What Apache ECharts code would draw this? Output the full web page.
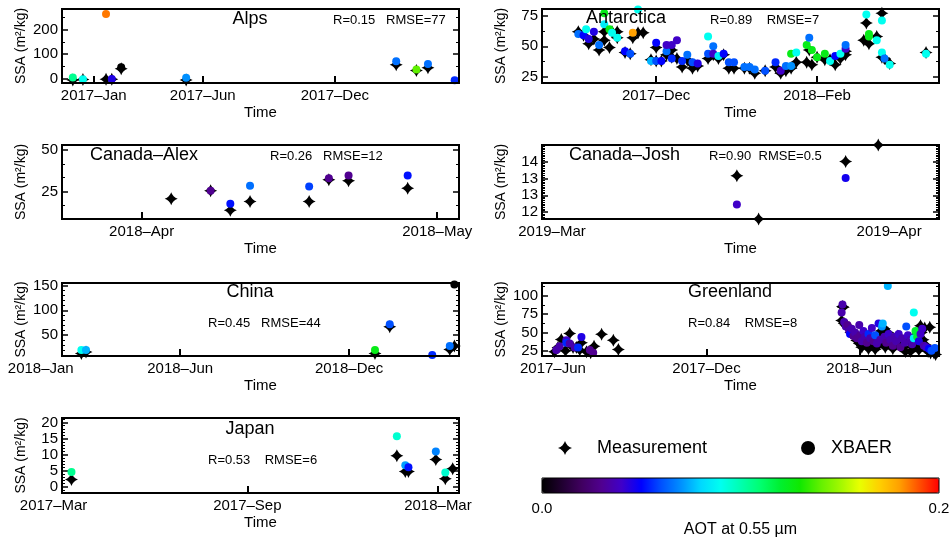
<!DOCTYPE html>
<html>
<head>
<meta charset="utf-8">
<title>SSA comparison</title>
<script src="https://cdn.jsdelivr.net/npm/echarts@6.0.0/dist/echarts.min.js"></script>
<style>
  html, body { margin: 0; padding: 0; background: #ffffff; }
  #chart { width: 952px; height: 543px; }
</style>
</head>
<body>
<div id="chart"></div>
<script>
// measurement points: [date, SSA]; XBAER points: [date, SSA, AOT]
var alpsMeas = [['2016-12-03', -6], ['2016-12-17', -4], ['2017-01-18', -3], ['2017-01-26', -3], ['2017-02-08', 40],
  ['2017-05-09', -6], ['2018-02-24', 57], ['2018-03-24', 33], ['2018-04-09', 44]]
var alpsXbaer = [['2016-12-03', 5, 0.105], ['2016-12-17', -3, 0.09], ['2017-01-18', 265, 0.185], ['2017-01-26', -2, 0.045],
  ['2017-02-08', 47, 0.0], ['2017-05-09', 3, 0.07], ['2018-02-24', 71, 0.065], ['2018-03-24', 37, 0.14],
  ['2018-04-09', 60, 0.065], ['2018-05-16', -7, 0.055]]

var antMeas = [['2017-11-01', 62], ['2017-11-03', 59], ['2017-11-05', 52], ['2017-11-07', 56], ['2017-11-09', 47],
  ['2017-11-11', 55], ['2017-11-11', 62], ['2017-11-13', 49], ['2017-11-14', 62], ['2017-11-16', 57], ['2017-11-16', 62],
  ['2017-11-19', 45], ['2017-11-21', 44], ['2017-11-22', 57], ['2017-11-24', 61], ['2017-11-26', 61], ['2017-11-29', 39],
  ['2017-12-01', 49], ['2017-12-01', 38], ['2017-12-03', 38], ['2017-12-05', 43], ['2017-12-07', 47], ['2017-12-07', 41],
  ['2017-12-09', 40], ['2017-12-11', 33], ['2017-12-13', 39], ['2017-12-15', 35], ['2017-12-15', 32], ['2017-12-17', 34],
  ['2017-12-21', 40], ['2017-12-23', 43], ['2017-12-25', 40], ['2017-12-27', 43], ['2017-12-29', 32], ['2017-12-31', 32],
  ['2018-01-04', 32], ['2018-01-06', 32], ['2018-01-08', 28], ['2018-01-12', 30], ['2018-01-16', 33], ['2018-01-18', 28],
  ['2018-01-20', 30], ['2018-01-22', 32], ['2018-01-24', 37], ['2018-01-28', 37], ['2018-01-29', 47], ['2018-01-30', 35],
  ['2018-02-01', 41], ['2018-02-04', 39], ['2018-02-06', 39], ['2018-02-08', 35], ['2018-02-10', 40], ['2018-02-12', 43],
  ['2018-02-12', 46], ['2018-02-19', 55], ['2018-02-20', 69], ['2018-02-21', 52], ['2018-02-24', 58], ['2018-02-26', 77],
  ['2018-02-26', 41], ['2018-02-27', 40], ['2018-03-01', 36], ['2018-03-15', 45]]
var antXbaer = [['2017-11-01', 60, 0.065], ['2017-11-03', 59, 0.05], ['2017-11-04', 64, 0.09], ['2017-11-05', 56, 0.045],
  ['2017-11-07', 62, 0.045], ['2017-11-09', 51, 0.065], ['2017-11-11', 77, 0.125], ['2017-11-11', 68, 0.085],
  ['2017-11-13', 64, 0.125], ['2017-11-14', 61, 0.09], ['2017-11-16', 57, 0.09], ['2017-11-19', 46, 0.05],
  ['2017-11-21', 44, 0.06], ['2017-11-22', 61, 0.18], ['2017-11-24', 80, 0.09], ['2017-11-29', 38, 0.075],
  ['2017-12-01', 53, 0.05], ['2017-12-01', 38, 0.06], ['2017-12-03', 38, 0.05], ['2017-12-05', 46, 0.065],
  ['2017-12-05', 51, 0.04], ['2017-12-07', 51, 0.04], ['2017-12-07', 40, 0.055], ['2017-12-09', 55, 0.04],
  ['2017-12-11', 38, 0.055], ['2017-12-13', 43, 0.065], ['2017-12-15', 37, 0.06], ['2017-12-17', 36, 0.045],
  ['2017-12-21', 58, 0.09], ['2017-12-21', 44, 0.06], ['2017-12-23', 50, 0.065], ['2017-12-23', 44, 0.04],
  ['2017-12-25', 42, 0.085], ['2017-12-27', 44, 0.05], ['2017-12-29', 37, 0.06], ['2017-12-31', 37, 0.06],
  ['2018-01-04', 33, 0.065], ['2018-01-06', 33, 0.065], ['2018-01-08', 31, 0.065], ['2018-01-12', 30, 0.06],
  ['2018-01-16', 37, 0.055], ['2018-01-18', 30, 0.04], ['2018-01-20', 34, 0.065], ['2018-01-22', 34, 0.07],
  ['2018-01-22', 44, 0.125], ['2018-01-24', 45, 0.09], ['2018-01-28', 51, 0.125], ['2018-01-29', 57, 0.065],
  ['2018-01-30', 47, 0.125], ['2018-02-01', 41, 0.125], ['2018-02-04', 44, 0.125], ['2018-02-06', 38, 0.09],
  ['2018-02-08', 42, 0.05], ['2018-02-10', 44, 0.09], ['2018-02-12', 48, 0.04], ['2018-02-12', 51, 0.065],
  ['2018-02-20', 76, 0.09], ['2018-02-21', 58, 0.125], ['2018-02-21', 60, 0.125], ['2018-02-24', 55, 0.09],
  ['2018-02-26', 71, 0.09], ['2018-02-26', 45, 0.09], ['2018-02-27', 40, 0.065], ['2018-03-01', 35, 0.09],
  ['2018-03-15', 44, 0.09]]

var alexMeas = [['2018-04-04', 20.6], ['2018-04-08', 25.4], ['2018-04-10', 13.6], ['2018-04-12', 19], ['2018-04-18', 19],
  ['2018-04-20', 32], ['2018-04-22', 31.4], ['2018-04-28', 27]]
var alexXbaer = [['2018-04-08', 25.4, 0.03], ['2018-04-10', 17.6, 0.052], ['2018-04-12', 28.4, 0.065],
  ['2018-04-18', 28, 0.058], ['2018-04-20', 33, 0.03], ['2018-04-22', 34.6, 0.03], ['2018-04-28', 34.6, 0.052]]

var joshMeas = [['2019-03-18', 13.58], ['2019-03-20', 12.3], ['2019-03-28', 14.0], ['2019-03-31', 14.49]]
var joshXbaer = [['2019-03-18', 12.73, 0.04], ['2019-03-28', 13.51, 0.047]]

var chinaMeas = [['2018-02-14', 13], ['2018-02-19', 16], ['2018-12-29', 13], ['2019-01-14', 67], ['2019-03-20', 21],
  ['2019-03-25', 28]]
var chinaXbaer = [['2018-02-14', 20, 0.09], ['2018-02-19', 20, 0.075], ['2018-12-29', 20, 0.125], ['2019-01-14', 72, 0.06],
  ['2019-03-01', 10, 0.055], ['2019-03-20', 28, 0.065], ['2019-03-25', 152, 0.0]]

var greenMeas = [['2017-06-03', 23.7], ['2017-06-07', 29.6], ['2017-06-11', 40.3], ['2017-06-16', 25], ['2017-06-21', 48.4],
  ['2017-06-25', 29.6], ['2017-06-29', 29.6], ['2017-07-03', 26], ['2017-07-05', 35.8], ['2017-07-11', 23.7],
  ['2017-07-16', 22.3], ['2017-07-20', 31.3], ['2017-07-29', 47.5], ['2017-08-12', 39.4], ['2017-08-18', 26.9],
  ['2018-05-11', 66], ['2018-05-12', 85], ['2018-05-13', 84], ['2018-05-14', 62], ['2018-05-16', 60], ['2018-05-18', 58],
  ['2018-05-20', 56], ['2018-05-22', 50], ['2018-05-23', 52], ['2018-05-26', 46], ['2018-05-27', 44], ['2018-05-29', 39],
  ['2018-05-31', 42], ['2018-06-01', 35], ['2018-06-03', 40], ['2018-06-04', 30], ['2018-06-07', 42], ['2018-06-08', 38],
  ['2018-06-10', 35], ['2018-06-12', 28], ['2018-06-13', 46], ['2018-06-15', 33], ['2018-06-16', 37], ['2018-06-19', 30],
  ['2018-06-20', 27], ['2018-06-22', 42], ['2018-06-24', 33], ['2018-06-25', 35], ['2018-06-27', 52], ['2018-06-29', 46],
  ['2018-07-01', 55], ['2018-07-02', 30], ['2018-07-05', 50], ['2018-07-07', 39], ['2018-07-09', 36], ['2018-07-11', 28],
  ['2018-07-13', 33], ['2018-07-15', 37], ['2018-07-17', 45], ['2018-07-19', 41], ['2018-07-22', 33], ['2018-07-24', 30],
  ['2018-07-26', 24], ['2018-07-28', 42], ['2018-07-30', 39], ['2018-08-01', 24], ['2018-08-04', 30], ['2018-08-06', 45],
  ['2018-08-08', 35], ['2018-08-11', 26], ['2018-08-13', 59], ['2018-08-14', 50], ['2018-08-16', 40], ['2018-08-18', 56],
  ['2018-08-19', 33], ['2018-08-22', 24], ['2018-08-24', 57], ['2018-08-25', 22], ['2018-08-29', 22], ['2018-08-31', 20]]
var greenXbaer = [['2017-06-05', 26, 0.035], ['2017-06-09', 31.3, 0.035], ['2017-06-17', 39.4, 0.04], ['2017-06-17', 36, 0.055],
  ['2017-06-21', 35, 0.035], ['2017-06-27', 29.6, 0.035], ['2017-07-01', 29.6, 0.055], ['2017-07-05', 43.8, 0.045],
  ['2017-07-15', 26, 0.03], ['2017-07-19', 22.3, 0.03],
  ['2018-05-11', 77, 0.035], ['2018-05-12', 88, 0.035], ['2018-05-14', 64, 0.035], ['2018-05-16', 58, 0.035],
  ['2018-05-18', 60, 0.03], ['2018-05-20', 52, 0.035], ['2018-05-21', 48, 0.05], ['2018-05-23', 55, 0.035],
  ['2018-05-25', 45, 0.03], ['2018-05-27', 50, 0.035], ['2018-05-29', 42, 0.03], ['2018-06-01', 60, 0.035],
  ['2018-06-02', 46, 0.03], ['2018-06-04', 38, 0.035], ['2018-06-06', 52, 0.04], ['2018-06-08', 44, 0.035],
  ['2018-06-10', 36, 0.03], ['2018-06-12', 48, 0.055], ['2018-06-14', 42, 0.035], ['2018-06-16', 56, 0.04],
  ['2018-06-18', 38, 0.03], ['2018-06-20', 46, 0.06], ['2018-06-22', 35, 0.035], ['2018-06-24', 62, 0.045],
  ['2018-06-26', 40, 0.035], ['2018-06-28', 58, 0.07], ['2018-06-29', 62, 0.075], ['2018-07-01', 44, 0.035],
  ['2018-07-03', 36, 0.03], ['2018-07-05', 113, 0.075], ['2018-07-06', 48, 0.04], ['2018-07-08', 40, 0.035],
  ['2018-07-11', 32, 0.03], ['2018-07-13', 44, 0.035], ['2018-07-15', 38, 0.035], ['2018-07-18', 48, 0.04],
  ['2018-07-20', 30, 0.03], ['2018-07-22', 42, 0.035], ['2018-07-25', 36, 0.035], ['2018-07-27', 58, 0.06],
  ['2018-07-29', 46, 0.04], ['2018-08-01', 40, 0.035], ['2018-08-03', 34, 0.035], ['2018-08-05', 77, 0.09],
  ['2018-08-05', 42, 0.085], ['2018-08-07', 52, 0.12], ['2018-08-09', 44, 0.12], ['2018-08-11', 38, 0.045],
  ['2018-08-13', 48, 0.04], ['2018-08-15', 55, 0.04], ['2018-08-17', 32, 0.035], ['2018-08-20', 30, 0.04],
  ['2018-08-23', 28, 0.05], ['2018-08-26', 25, 0.06], ['2018-08-30', 29, 0.06]]

var japanMeas = [['2017-03-18', 2.3], ['2018-01-21', 9.7], ['2018-01-29', 4.8], ['2018-02-01', 4.8], ['2018-02-27', 8.5],
  ['2018-03-08', 2.5], ['2018-03-15', 5.6]]
var japanXbaer = [['2017-03-18', 4.6, 0.105], ['2018-01-21', 15.7, 0.095], ['2018-01-29', 6.7, 0.072],
  ['2018-02-01', 6.1, 0.052], ['2018-02-27', 11, 0.068], ['2018-03-08', 4.5, 0.095]]

// axis ticks and labels
var alpsXTicks = ['2017-01-01', '2017-06-01', '2017-12-01']
var antXTicks = ['2017-12-01', '2018-02-01']
var alexXTicks = ['2018-04-01', '2018-05-01']
var joshXLabels = ['2019-03-01', '2019-04-01']
var chinaXTicks = ['2018-06-01', '2018-12-01']
var chinaXLabels = ['2018-01-01', '2018-06-01', '2018-12-01']
var greenXTicks = ['2017-06-01', '2017-12-01', '2018-06-01']
var japanXTicks = ['2017-09-01', '2018-03-01']
var japanXLabels = ['2017-03-01', '2017-09-01', '2018-03-01']

var alpsYTicks = [0, 100, 200]
var antYTicks = [25, 50, 75]
var alexYTicks = [25, 50]
var joshYTicks = [12.5, 13, 13.5, 14]
var chinaYTicks = [50, 100, 150]
var greenYTicks = [25, 50, 75, 100]
var japanYTicks = [0, 5, 10, 15, 20]

var aotColors = ['#000000', '#200030', '#400060', '#500090', '#4000c8', '#0000ff', '#0050ff', '#0090ff', '#00d8ff',
  '#00fff0', '#00ffb0', '#00ff70', '#00f030', '#10e800', '#60f000', '#a0f800', '#e8ff00', '#ffd000', '#ffa000',
  '#ff5000', '#ff0000']
var aotLabels = [0, 0.2]

var FONT = '"Liberation Sans", Arial, Helvetica, sans-serif'
var STAR = 'path://M0,-10 Q2.5,-2.5 10,0 Q2.5,2.5 0,10 Q-2.5,2.5 -10,0 Q-2.5,-2.5 0,-10 Z'
var MONTHS = ['Jan', 'Feb', 'Mar', 'Apr', 'May', 'Jun', 'Jul', 'Aug', 'Sep', 'Oct', 'Nov', 'Dec']

function toDay(s) {
  return Date.parse(s.length > 10 ? s + ':00Z' : s + 'T00:00:00Z') / 864e5
}
function dayLabel(d) {
  var t = new Date(Math.round(d) * 864e5)
  return t.getUTCFullYear() + '\u2013' + MONTHS[t.getUTCMonth()]
}
function minorTicks(from, to, step, majors) {
  var out = []
  for (var v = from; v <= to + 1e-9; v += step) {
    var r = Math.round(v * 1000) / 1000
    if (majors.indexOf(r) < 0) out.push(r)
  }
  return out
}

var panels = [
  { name: 'Alps', stats: 'R=0.15   RMSE=77', meas: alpsMeas, xbaer: alpsXbaer,
    box: [62, 9, 397, 74], xRange: ['2016-11-18', '2018-05-22'], xTicks: alpsXTicks, xLabels: alpsXTicks,
    yRange: [-18, 285], yTicks: alpsYTicks, yMinor: [50, 150, 250],
    titleAt: [250, 19, 'center'], statsAt: [333, 20] },
  { name: 'Antarctica', stats: 'R=0.89    RMSE=7', meas: antMeas, xbaer: antXbaer,
    box: [542, 9, 397, 74], xRange: ['2017-10-18', '2018-03-20'], xTicks: antXTicks, xLabels: antXTicks,
    yRange: [20, 80.5], yTicks: antYTicks, yMinor: [37.5, 62.5],
    titleAt: [586, 18, 'left'], statsAt: [710, 20] },
  { name: 'Canada\u2013Alex', stats: 'R=0.26   RMSE=12', meas: alexMeas, xbaer: alexXbaer,
    box: [62, 145, 397, 74], xRange: ['2018-03-23T22:00', '2018-05-03T05:00'], xTicks: alexXTicks, xLabels: alexXTicks,
    yRange: [8.4, 53], yTicks: alexYTicks, yMinor: [16.67, 33.33, 41.67],
    titleAt: [90, 155, 'left'], statsAt: [270, 156] },
  { name: 'Canada\u2013Josh', stats: 'R=0.90  RMSE=0.5', meas: joshMeas, xbaer: joshXbaer,
    box: [542, 145, 397, 74], xRange: ['2019-02-28T02:00', '2019-04-05T14:00'], xTicks: [], xLabels: joshXLabels,
    yRange: [12.3, 14.49], yTicks: joshYTicks, yMinor: minorTicks(12.35, 14.45, 0.05, joshYTicks), yFloor: true,
    titleAt: [569, 155, 'left'], statsAt: [709, 156] },
  { name: 'China', stats: 'R=0.45   RMSE=44', meas: chinaMeas, xbaer: chinaXbaer,
    box: [62, 283, 397, 73], xRange: ['2018-01-24', '2019-03-30'], xTicks: chinaXTicks, xLabels: chinaXLabels,
    yRange: [8, 155], yTicks: chinaYTicks, yMinor: minorTicks(10, 150, 10, chinaYTicks),
    titleAt: [250, 292, 'center'], statsAt: [208, 323] },
  { name: 'Greenland', stats: 'R=0.84    RMSE=8', meas: greenMeas, xbaer: greenXbaer,
    box: [542, 283, 397, 73], xRange: ['2017-05-19', '2018-09-04'], xTicks: greenXTicks, xLabels: greenXTicks,
    yRange: [18, 117], yTicks: greenYTicks, yMinor: [37.5, 62.5, 87.5, 112.5],
    titleAt: [730, 292, 'center'], statsAt: [688, 323] },
  { name: 'Japan', stats: 'R=0.53    RMSE=6', meas: japanMeas, xbaer: japanXbaer,
    box: [62, 418, 397, 75], xRange: ['2017-03-09', '2018-03-21'], xTicks: japanXTicks, xLabels: japanXLabels,
    yRange: [-1.9, 21.4], yTicks: japanYTicks, yMinor: minorTicks(-1, 21, 1, japanYTicks),
    titleAt: [250, 429, 'center'], statsAt: [208, 460] }
]

var grids = [], xAxes = [], yAxes = [], series = [], graphics = [], xbaerIdx = []

panels.forEach(function (p, i) {
  grids.push({ left: p.box[0], top: p.box[1], width: p.box[2], height: p.box[3], show: true, z: 5,
    backgroundColor: 'transparent', borderColor: '#000', borderWidth: 2, outerBoundsMode: 'none' })

  // labels left of the axis start are pinned at the start and pushed back with padding
  var lo = toDay(p.xRange[0])
  var pxPerDay = p.box[2] / (toDay(p.xRange[1]) - lo)
  var labelMap = {}, labelVals = [], shift = 0
  p.xLabels.forEach(function (s) {
    var d = toDay(s), v = Math.max(d, lo)
    labelVals.push(v)
    labelMap[v] = dayLabel(d)
    if (v > d) shift = (v - d) * pxPerDay
  })

  xAxes.push({
    gridIndex: i, type: 'value', min: lo, max: toDay(p.xRange[1]),
    axisLine: { show: false, onZero: false }, splitLine: { show: false },
    axisTick: { show: true, inside: true, length: 7, customValues: p.xTicks.map(toDay), lineStyle: { color: '#000', width: 2 } },
    axisLabel: {
      customValues: labelVals, color: '#000', fontSize: 15, fontFamily: FONT, margin: 5, hideOverlap: false,
      formatter: function (v) {
        var t = labelMap[v]
        if (!t) return ''
        return v === lo && shift > 0 ? '{s|' + t + '}' : t
      },
      rich: { s: { fontSize: 15, fontFamily: FONT, color: '#000', padding: [0, 2 * shift, 0, 0] } }
    },
    name: 'Time', nameLocation: 'middle', nameGap: 22,
    nameTextStyle: { color: '#000', fontSize: 15, fontFamily: FONT }
  })

  var yBase = { gridIndex: i, type: 'value', min: p.yRange[0], max: p.yRange[1],
    axisLine: { show: false, onZero: false }, splitLine: { show: false } }
  yAxes.push(Object.assign({}, yBase, {
    position: 'left',
    axisTick: { inside: true, length: 6, customValues: p.yTicks, lineStyle: { color: '#000', width: 1.5 } },
    // truncated half-step labels (IDL integer format) are placed after init, see below
    axisLabel: { show: !p.yFloor, customValues: p.yTicks, color: '#000', fontSize: 15, fontFamily: FONT, margin: 4,
      hideOverlap: false, showMinLabel: true, showMaxLabel: true },
    name: 'SSA (m\u00b2/kg)', nameLocation: 'middle', nameGap: 34,
    nameTextStyle: { color: '#000', fontSize: 14, fontFamily: FONT }
  }))
  yAxes.push(Object.assign({}, yBase, { position: 'left', axisLabel: { show: false },
    axisTick: { inside: true, length: 3, customValues: p.yMinor, lineStyle: { color: '#000', width: 1 } } }))
  yAxes.push(Object.assign({}, yBase, { position: 'right', axisLabel: { show: false },
    axisTick: { inside: true, length: 6, customValues: p.yTicks, lineStyle: { color: '#000', width: 1.5 } } }))
  yAxes.push(Object.assign({}, yBase, { position: 'right', axisLabel: { show: false },
    axisTick: { inside: true, length: 3, customValues: p.yMinor, lineStyle: { color: '#000', width: 1 } } }))

  series.push({
    type: 'scatter', name: 'Measurement', xAxisIndex: i, yAxisIndex: 4 * i,
    data: p.meas.map(function (d) { return [toDay(d[0]), d[1]] }),
    symbol: STAR, symbolSize: 13, itemStyle: { color: '#000', opacity: 1 }, z: 2, silent: true
  })
  xbaerIdx.push(series.length)
  series.push({
    type: 'scatter', name: 'XBAER', xAxisIndex: i, yAxisIndex: 4 * i,
    data: p.xbaer.map(function (d) { return [toDay(d[0]), d[1], d[2]] }),
    symbol: 'circle', symbolSize: 8, itemStyle: { color: '#000', opacity: 1 }, z: 3, silent: true
  })

  graphics.push({ type: 'text', x: p.titleAt[0], y: p.titleAt[1], z: 10,
    style: { text: p.name, fill: '#000', font: '18px ' + FONT, textAlign: p.titleAt[2], textVerticalAlign: 'middle', verticalAlign: 'middle' } })
  graphics.push({ type: 'text', x: p.statsAt[0], y: p.statsAt[1], z: 10,
    style: { text: p.stats, fill: '#000', font: '13px ' + FONT, textAlign: 'left', textVerticalAlign: 'middle', verticalAlign: 'middle' } })
})

// colour bar frame and its axis
var cb = panels.length
grids.push({ left: 542, top: 478, width: 397, height: 15, show: true, z: 5, backgroundColor: 'transparent',
  borderColor: '#000', borderWidth: 1, outerBoundsMode: 'none' })
xAxes.push({
  gridIndex: cb, type: 'value', min: 0, max: 0.2,
  axisLine: { show: false, onZero: false }, splitLine: { show: false },
  axisTick: { inside: true, length: 2, customValues: [0.1], lineStyle: { color: '#000' } },
  axisLabel: { customValues: aotLabels, color: '#000', fontSize: 15, fontFamily: FONT, margin: 8, hideOverlap: false,
    formatter: function (v) { return v.toFixed(1) } },
  name: 'AOT at 0.55 \u00b5m', nameLocation: 'middle', nameGap: 29,
  nameTextStyle: { color: '#000', fontSize: 16, fontFamily: FONT }
})
yAxes.push({ gridIndex: cb, type: 'value', show: false })

var option = {
  animation: false,
  backgroundColor: '#fff',
  textStyle: { fontFamily: FONT, color: '#000' },
  grid: grids,
  xAxis: xAxes,
  yAxis: yAxes,
  series: series,
  graphic: graphics,
  legend: {
    left: 553, top: 434, itemWidth: 14, itemHeight: 14, itemGap: 94, selectedMode: false,
    textStyle: { color: '#000', fontSize: 18, fontFamily: FONT },
    data: [
      { name: 'Measurement', icon: STAR, itemStyle: { color: '#000', opacity: 1 }, textStyle: { padding: [0, 0, 0, 20] } },
      { name: 'XBAER', icon: 'circle', itemStyle: { color: '#000', opacity: 1 }, textStyle: { padding: [0, 0, 0, 11] } }
    ]
  },
  visualMap: {
    type: 'continuous', seriesIndex: xbaerIdx, dimension: 2, min: 0, max: 0.2,
    orient: 'horizontal', left: 542, top: 478, itemWidth: 15, itemHeight: 397, padding: 0,
    calculable: false, hoverLink: false, text: null, showLabel: false,
    inRange: { color: aotColors }
  }
}

var chart = echarts.init(document.getElementById('chart'))
chart.setOption(option)

// repeated truncated labels ("13" twice) get dropped by the axis, so put them at the axis' own pixel positions
panels.forEach(function (p, i) {
  if (!p.yFloor) return
  p.yTicks.forEach(function (v) {
    graphics.push({ type: 'text', x: p.box[0] - 4, y: chart.convertToPixel({ yAxisIndex: 4 * i }, v), z: 10,
      style: { text: String(Math.floor(v)), fill: '#000', font: '15px ' + FONT, textAlign: 'right',
        textVerticalAlign: 'middle', verticalAlign: 'middle' } })
  })
})
chart.setOption({ graphic: graphics })

window.addEventListener('resize', function () { chart.resize() })
</script>
</body>
</html>
